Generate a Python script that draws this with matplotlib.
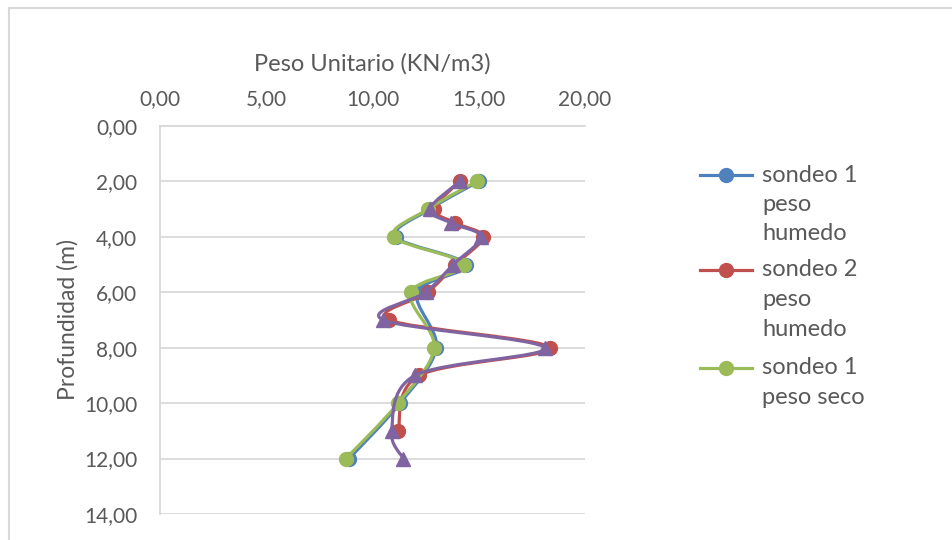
import numpy as np
import matplotlib
matplotlib.use("Agg")
import matplotlib.pyplot as plt
from matplotlib.path import Path
from matplotlib.patches import PathPatch
from matplotlib.lines import Line2D

plt.rcParams["font.family"] = ["Lato", "DejaVu Sans"]

# -----------------------------
# Data
# -----------------------------
prof_1 = [2, 3, 4, 5, 6, 8, 10, 12]
s1_humedo = [15.0, 12.7, 11.1, 14.4, 12.1, 13.0, 11.3, 8.9]
s1_seco = [14.9, 12.6, 11.0, 14.3, 11.8, 12.9, 11.2, 8.75]

prof_2 = [2, 3, 3.5, 4, 5, 6, 7, 8, 9, 11]
s2_humedo = [14.1, 12.9, 13.9, 15.2, 13.9, 12.6, 10.8, 18.35, 12.2, 11.2]

prof_3 = [2, 3, 3.5, 4, 5, 6, 7, 8, 9, 11, 12]
s2_seco = [14.1, 12.7, 13.7, 15.1, 13.8, 12.5, 10.5, 18.1, 12.0, 10.9, 11.45]

x_ticks = [0, 5, 10, 15, 20]
y_ticks = [0, 2, 4, 6, 8, 10, 12, 14]

txt = "#595959"
grid = "#d9d9d9"
FS = 15


def smooth_path(x, y, t=1 / 6):
    # Excel-like smoothed line: cubic Bezier through every point
    x = np.asarray(x, float)
    y = np.asarray(y, float)
    n = len(x)
    verts = [(x[0], y[0])]
    codes = [Path.MOVETO]
    for i in range(n - 1):
        p0 = (x[max(i - 1, 0)], y[max(i - 1, 0)])
        p1 = (x[i], y[i])
        p2 = (x[i + 1], y[i + 1])
        p3 = (x[min(i + 2, n - 1)], y[min(i + 2, n - 1)])
        c1 = (p1[0] + (p2[0] - p0[0]) * t, p1[1] + (p2[1] - p0[1]) * t)
        c2 = (p2[0] - (p3[0] - p1[0]) * t, p2[1] - (p3[1] - p1[1]) * t)
        verts += [c1, c2, p2]
        codes += [Path.CURVE4] * 3
    return Path(verts, codes)


fig = plt.figure(figsize=(9.53, 5.4), dpi=100)
ax = fig.add_axes([160 / 953, 26 / 540, 425 / 953, 388 / 540])

series = [
    (s1_humedo, prof_1, "#4F81BD", "o", "sondeo 1\npeso\nhumedo"),
    (s2_humedo, prof_2, "#C0504D", "o", "sondeo 2\npeso\nhumedo"),
    (s1_seco, prof_1, "#9BBB59", "o", "sondeo 1\npeso seco"),
    (s2_seco, prof_3, "#8064A2", "^", None),
]

for z, (xs, ys, col, mk, lab) in enumerate(series):
    ax.add_patch(PathPatch(smooth_path(xs, ys), fill=False, edgecolor=col,
                           lw=2.3, capstyle="round", joinstyle="round", zorder=3 + z))
    ax.plot(xs, ys, ls="none", marker=mk, ms=10 if mk == "o" else 10.5,
            color=col, zorder=3 + z)

ax.set_xlim(0, 20)
ax.set_ylim(14, 0)
ax.set_xticks(x_ticks)
ax.set_yticks(y_ticks)
ax.set_xticklabels([f"{v:.2f}".replace(".", ",") for v in x_ticks])
ax.set_yticklabels([f"{v:.2f}".replace(".", ",") for v in y_ticks])
ax.xaxis.tick_top()
ax.xaxis.set_label_position("top")
ax.tick_params(length=0, labelsize=FS, colors=txt)
ax.tick_params(axis="y", pad=16.5)
ax.tick_params(axis="x", pad=12.5)
ax.yaxis.grid(True, color=grid, lw=1.3)
ax.set_axisbelow(True)
for s in ["right", "bottom"]:
    ax.spines[s].set_visible(False)
for s in ["left", "top"]:
    ax.spines[s].set_color(grid)
    ax.spines[s].set_linewidth(1.3)

ax.set_xlabel("Peso Unitario (KN/m3)", fontsize=17, color=txt, labelpad=13)
ax.set_ylabel("Profundidad (m)", fontsize=16.5, color=txt, labelpad=4)

# legend drawn by hand so the marker sits on the first text line
leg_y = [175, 270, 368]
for (xs, ys, col, mk, lab), yp in zip(series[:3], leg_y):
    yf = 1 - yp / 540
    fig.add_artist(Line2D([700 / 953, 752 / 953], [yf, yf], color=col, lw=2.3))
    fig.add_artist(Line2D([726 / 953], [yf], marker=mk, ms=10, color=col, ls="none"))
    for k, line in enumerate(lab.split("\n")):
        fig.text(762 / 953, 1 - (yp + 29.5 * k) / 540, line, fontsize=17,
                 color=txt, va="center", ha="left")

# chart area border (only top and left edges visible)
fig.add_artist(Line2D([9 / 953, 1], [1 - 8 / 540] * 2, color=grid, lw=1.5))
fig.add_artist(Line2D([9 / 953] * 2, [0, 1 - 8 / 540], color=grid, lw=1.5))

fig.savefig("out.png", dpi=100)
